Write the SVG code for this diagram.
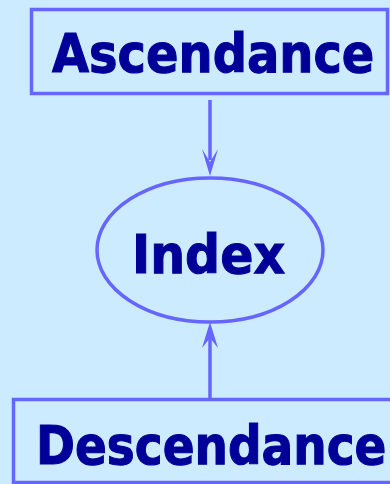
<svg xmlns="http://www.w3.org/2000/svg" width="390" height="484" viewBox="0 0 390 484">
<style>
.box{fill:none;stroke:#6666FF;stroke-width:3.5}
.lbl{font-family:"DejaVu Sans",Verdana,sans-serif;font-weight:bold;fill:#000099;stroke:#000099;stroke-width:1;font-size:47px}
.conn{stroke:#6666FF;stroke-width:3.5;fill:none}
.head{fill:#6666FF;stroke:none}
</style>
<rect width="390" height="484" fill="#CCEBFF"/>
<g id="ascendance">
<rect class="box" x="31.5" y="9.5" width="356" height="84"/>
<text class="lbl" transform="translate(52,72) scale(1.02,1.13)" x="0" y="0">Ascendance</text>
</g>
<g id="index">
<ellipse class="box" cx="210" cy="250" rx="113" ry="72"/>
<text class="lbl" transform="translate(132,273) scale(1,1.1)" x="0" y="0" style="font-size:49px">Index</text>
</g>
<g id="descendance">
<rect class="box" x="13.5" y="399.5" width="390" height="83"/>
<text class="lbl" transform="translate(36,464) scale(1,1.12)" x="0" y="0">Descendance</text>
</g>
<g id="connectors">
<line class="conn" x1="210" y1="100" x2="210" y2="160"/>
<path class="head" d="M202,149 L210,176 L218,149 L210,162 Z"/>
<line class="conn" x1="210" y1="398" x2="210" y2="336"/>
<path class="head" d="M202,348 L210,322 L218,348 L210,338 Z"/>
</g>
</svg>
